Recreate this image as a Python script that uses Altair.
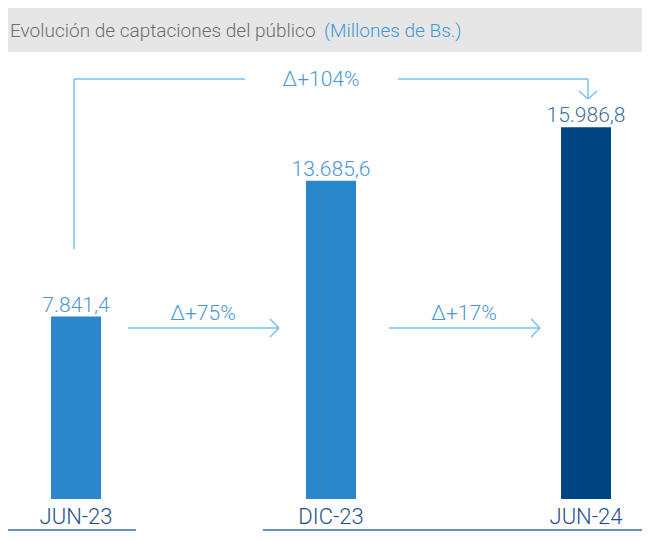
import altair as alt
import pandas as pd

# ---- data ----
categories = ["JUN-23", "DIC-23", "JUN-24"]
values = [7841.4, 13685.6, 15986.8]
growth_labels = ["Δ+75%", "Δ+17%"]
total_growth_label = "Δ+104%"
title_main = "Evolución de captaciones del público"
title_unit = "(Millones de Bs.)"


def fmt_es(v):
    s = f"{v:,.1f}"
    return s.replace(",", "X").replace(".", ",").replace("X", ".")


df = pd.DataFrame({
    "cat": categories,
    "idx": list(range(len(categories))),
    "value": values,
    "label": [fmt_es(v) for v in values],
})

W, H = 634, 525
FONT = "Roboto"
LINE = "#72c3f3"
DELTA = "#4a97d6"

xs = alt.Scale(domain=[-0.2667, 2.2196], nice=False, zero=False, padding=0)
ys = alt.Scale(domain=[-1462, 21109], nice=False, zero=False)

bar_colors = alt.Scale(domain=categories, range=["#2a87cb", "#2a87cb", "#004481"])
label_colors = alt.Scale(domain=categories, range=["#4a97d6", "#4a97d6", "#41709f"])

base = alt.Chart(df)

bars = base.mark_bar(width=50).encode(
    x=alt.X("idx:Q", scale=xs, axis=None),
    y=alt.Y("value:Q", scale=ys, axis=None),
    y2=alt.datum(0),
    color=alt.Color("cat:N", scale=bar_colors, legend=None),
)

value_labels = base.mark_text(
    baseline="alphabetic", dy=-5, fontSize=21, font=FONT, fontWeight=300
).encode(
    x=alt.X("idx:Q", scale=xs, axis=None),
    y=alt.Y("value:Q", scale=ys, axis=None),
    text="label:N",
    color=alt.Color("cat:N", scale=label_colors, legend=None),
)

x_labels = base.mark_text(
    baseline="alphabetic", fontSize=22, font=FONT, fontWeight=300, color="#1d4f8a"
).encode(
    x=alt.X("idx:Q", scale=xs, axis=None),
    y=alt.value(516),
    text="cat:N",
)

one = alt.Data(values=[{}])


def seg(x1, y1, x2, y2, color=LINE, sw=1.5):
    return alt.Chart(one).mark_rule(color=color, strokeWidth=sw).encode(
        x=alt.value(x1), y=alt.value(y1), x2=alt.value(x2), y2=alt.value(y2)
    )


def label(txt, x, y, size, color, align="center", weight=300):
    return alt.Chart(one).mark_text(
        text=txt, fontSize=size, font=FONT, fontWeight=weight, color=color,
        align=align, baseline="middle"
    ).encode(x=alt.value(x), y=alt.value(y))


title_box = alt.Chart(one).mark_rect(color="#e6e6e6").encode(
    x=alt.value(0), x2=alt.value(W), y=alt.value(0), y2=alt.value(44)
)

decor = [
    title_box,
    label(title_main, 2, 23, 19, "#6e6e6e", align="left"),
    label(title_unit, 316, 23, 19, "#3d9ad9", align="left"),
    # bracket for total growth
    seg(66, 241, 66, 71),
    seg(66, 71, 237, 71),
    seg(390, 71, 580, 71),
    seg(580, 71, 580, 91),
    seg(571, 83, 580, 91),
    seg(589, 83, 580, 91),
    label(total_growth_label, 313, 72, 21, DELTA),
    # arrow 1
    seg(120, 320, 271, 320),
    seg(262, 311, 271, 320),
    seg(262, 329, 271, 320),
    label(growth_labels[0], 195, 306, 21, DELTA),
    # arrow 2
    seg(381, 320, 532, 320),
    seg(523, 311, 532, 320),
    seg(523, 329, 532, 320),
    label(growth_labels[1], 456, 306, 21, DELTA),
    # underlines
    seg(0, 522, 128, 522, color="#6d8fbd", sw=2),
    seg(255, 522, W, 522, color="#6d8fbd", sw=2),
]

chart = alt.layer(*decor, bars, value_labels, x_labels).resolve_scale(
    color="independent"
).properties(
    width=W, height=H, padding=0, autosize=alt.AutoSizeParams(type="none")
).configure_view(stroke=None)

chart.save("out.html", embed_options={"renderer": "svg", "actions": False})
